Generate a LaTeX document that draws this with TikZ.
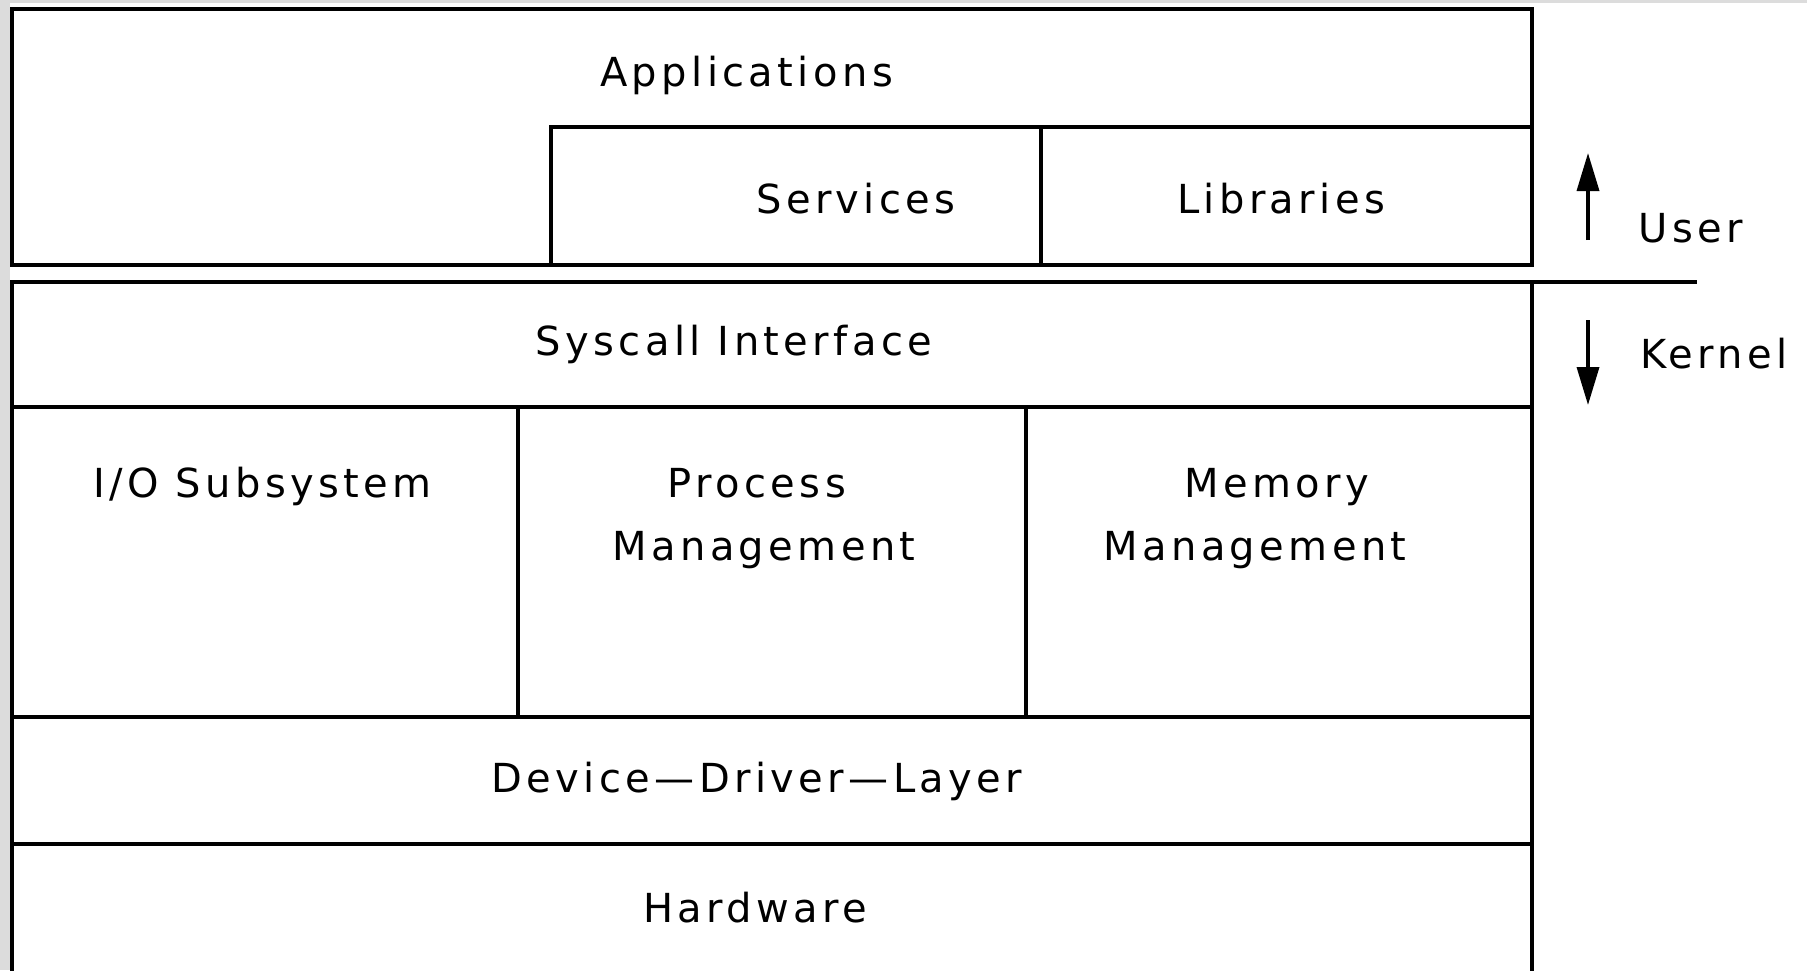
\documentclass[tikz,border=0pt]{standalone}
\usepackage{fontspec}
\setmainfont{DejaVu Sans}[LetterSpace=11]
\usetikzlibrary{arrows.meta}
\definecolor{edgegray}{RGB}{220,220,220}
\begin{document}
\begin{tikzpicture}[x=1pt,y=-1pt,
  lbl/.style={font=\fontsize{40}{48}\selectfont, anchor=base, inner sep=0pt},
  layer/.style={draw=black, line width=4pt, line cap=rect},
  updown/.style={line width=3.5pt, -{Triangle[length=38pt,width=22pt]}}]
\useasboundingbox (0,0) rectangle (1807,970);
% thin grey frame strips along the left and top edge
\fill[edgegray] (0,0) rectangle (9.5,970);
\fill[edgegray] (0,0) rectangle (1807,2.5);

% user space
\draw[layer] (11.5,9) rectangle (1532,265);
\draw[layer] (551,265) -- (551,127) -- (1532,127);
\draw[layer] (1040.6,127) -- (1040.6,265);

% user/kernel boundary and kernel space
\draw[layer] (11.5,980) -- (11.5,282) -- (1695,282);
\draw[layer] (1532,282) -- (1532,980);
\draw[layer] (11.5,407) -- (1532,407);
\draw[layer] (11.5,716.5) -- (1532,716.5);
\draw[layer] (11.5,844) -- (1532,844);
\draw[layer] (517.5,407) -- (517.5,716.5);
\draw[layer] (1025.6,407) -- (1025.6,716.5);

% labels
\node[lbl] (apps) at (746.5,86.7) {Applications};
\node[lbl] (services) at (856,213) {Services};
\node[lbl] (libs) at (1281,213) {Libraries};
\node[lbl] (syscall) at (734,355) {Syscall Interface};
\node[lbl] (io) at (262.5,497) {I/O Subsystem};
\node[lbl] (procA) at (757,497) {Process};
\node[lbl] (procB) at (764,560) {Management};
\node[lbl] (memA) at (1277,497) {Memory};
\node[lbl] (memB) at (1255,560) {Management};
\node[lbl] (ddl) at (757,792) {Device—Driver—Layer};
\node[lbl] (hw) at (755,922) {Hardware};
\node[lbl] (user) at (1691,242) {User};
\node[lbl] (kernel) at (1714,368) {Kernel};

% direction arrows
\coordinate (userfoot) at (1588,240);
\coordinate (usertip) at (1588,153);
\coordinate (kernfoot) at (1588,320);
\coordinate (kerntip) at (1588,405);
\draw[updown] (userfoot) -- (usertip);
\draw[updown] (kernfoot) -- (kerntip);
\end{tikzpicture}
\end{document}
